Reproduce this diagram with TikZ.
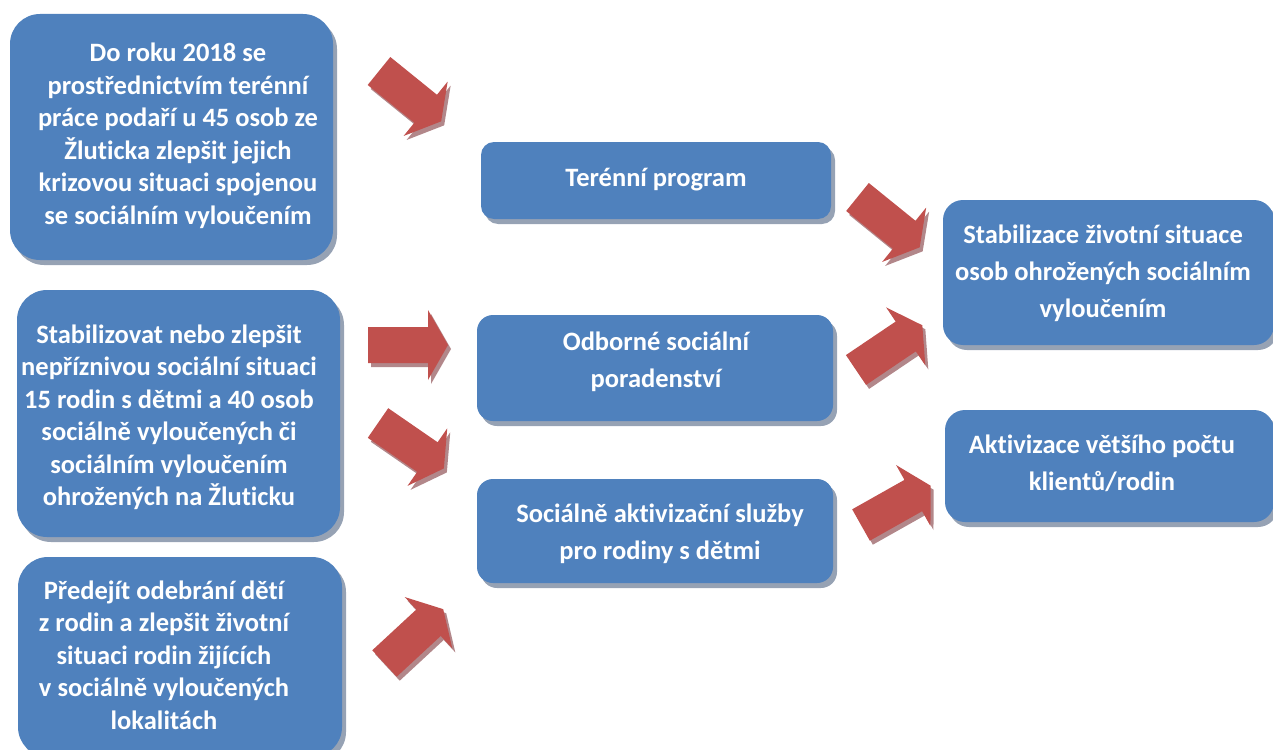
\documentclass[tikz,border=0pt]{standalone}
\usepackage{fontspec}
\setmainfont{Carlito}[Ligatures={NoCommon,NoContextual}, Contextuals={NoAlternate}]
\usetikzlibrary{shadows}
\definecolor{boxblue}{RGB}{79,129,189}
\definecolor{boxshadow}{RGB}{150,162,180}
\definecolor{arrred}{RGB}{192,80,77}
\definecolor{arrshadow}{RGB}{178,135,138}
\tikzset{
  box/.style={fill=boxblue, draw=none, inner sep=0pt,
    drop shadow={shadow xshift=4pt, shadow yshift=-5pt, fill=boxshadow, opacity=1}},
  boxtxt/.style={text=white, font=\bfseries\fontsize{26.5}{32.5}\selectfont, align=center,
    inner sep=0pt, execute at begin node=\strut, execute at end node=\strut},
  boxtxtw/.style={boxtxt, font=\bfseries\fontsize{26.5}{37}\selectfont},
}
\newcommand\blockarrow[4]{%
  \fill[arrshadow, shift={(#2+3,#3+4)}, rotate=#4]
    (0,-18) -- (60,-18) -- (60,-35) -- (80,0) -- (60,35) -- (60,18) -- (0,18) -- cycle;
  \fill[arrred, shift={(#2,#3)}, rotate=#4]
    (0,-18) -- (60,-18) -- (60,-35) -- (80,0) -- (60,35) -- (60,18) -- (0,18) -- cycle;
  \coordinate (#1) at (#2,#3);
}
\begin{document}
\begin{tikzpicture}[x=1pt, y=-1pt]
\useasboundingbox (0,0) rectangle (1273,749);
% boxes
\node[box, rounded corners=30pt, minimum width=323pt, minimum height=246pt] (b1) at (171.5,137) {};
\node[box, rounded corners=30pt, minimum width=323pt, minimum height=247pt] (b2) at (178.5,413.5) {};
\node[box, rounded corners=30pt, minimum width=324pt, minimum height=200pt] (b3) at (180,657) {};
\node[box, rounded corners=13pt, minimum width=350pt, minimum height=77pt] (b4) at (656,180.5) {};
\node[box, rounded corners=16pt, minimum width=356pt, minimum height=106pt] (b5) at (655,368) {};
\node[box, rounded corners=16pt, minimum width=356pt, minimum height=104pt] (b6) at (655,531) {};
\node[box, rounded corners=20pt, minimum width=331pt, minimum height=145pt] (b7) at (1108.5,272.5) {};
\node[box, rounded corners=20pt, minimum width=329pt, minimum height=112pt] (b8) at (1109.5,466) {};
% texts
\node[boxtxt] (t1) at (178,138.5) {Do roku 2018 se\\prostřednictvím terénní\\práce podaří u 45 osob ze\\Žluticka zlepšit jejich\\krizovou situaci spojenou\\se sociálním vyloučením};
\node[boxtxt] (t2) at (169,420) {Stabilizovat nebo zlepšit\\nepříznivou sociální situaci\\15 rodin s dětmi a 40 osob\\sociálně vyloučených či\\sociálním vyloučením\\ohrožených na Žluticku};
\node[boxtxt] (t3) at (164,660) {Předejít odebrání dětí\\z rodin a zlepšit životní\\situaci rodin žijících\\v sociálně vyloučených\\lokalitách};
\node[boxtxtw] (t4) at (656,179) {Terénní program};
\node[boxtxtw] (t5) at (656,365.5) {Odborné sociální\\poradenství};
\node[boxtxtw] (t6) at (660,537) {Sociálně aktivizační služby\\pro rodiny s dětmi};
\node[boxtxtw] (t7) at (1103,276.5) {Stabilizace životní situace\\osob ohrožených sociálním\\vyloučením};
\node[boxtxtw] (t8) at (1102,468.5) {Aktivizace většího počtu\\klientů/rodin};
% arrows
\blockarrow{a1}{379}{71}{-39}
\blockarrow{a2}{368}{345}{0}
\blockarrow{a3}{378}{423}{-34.6}
\blockarrow{a4}{384.5}{663.5}{42.8}
\blockarrow{a5}{857.5}{197}{-39}
\blockarrow{a6}{856}{370}{34}
\blockarrow{a7}{861}{525}{29.4}
\end{tikzpicture}
\end{document}
